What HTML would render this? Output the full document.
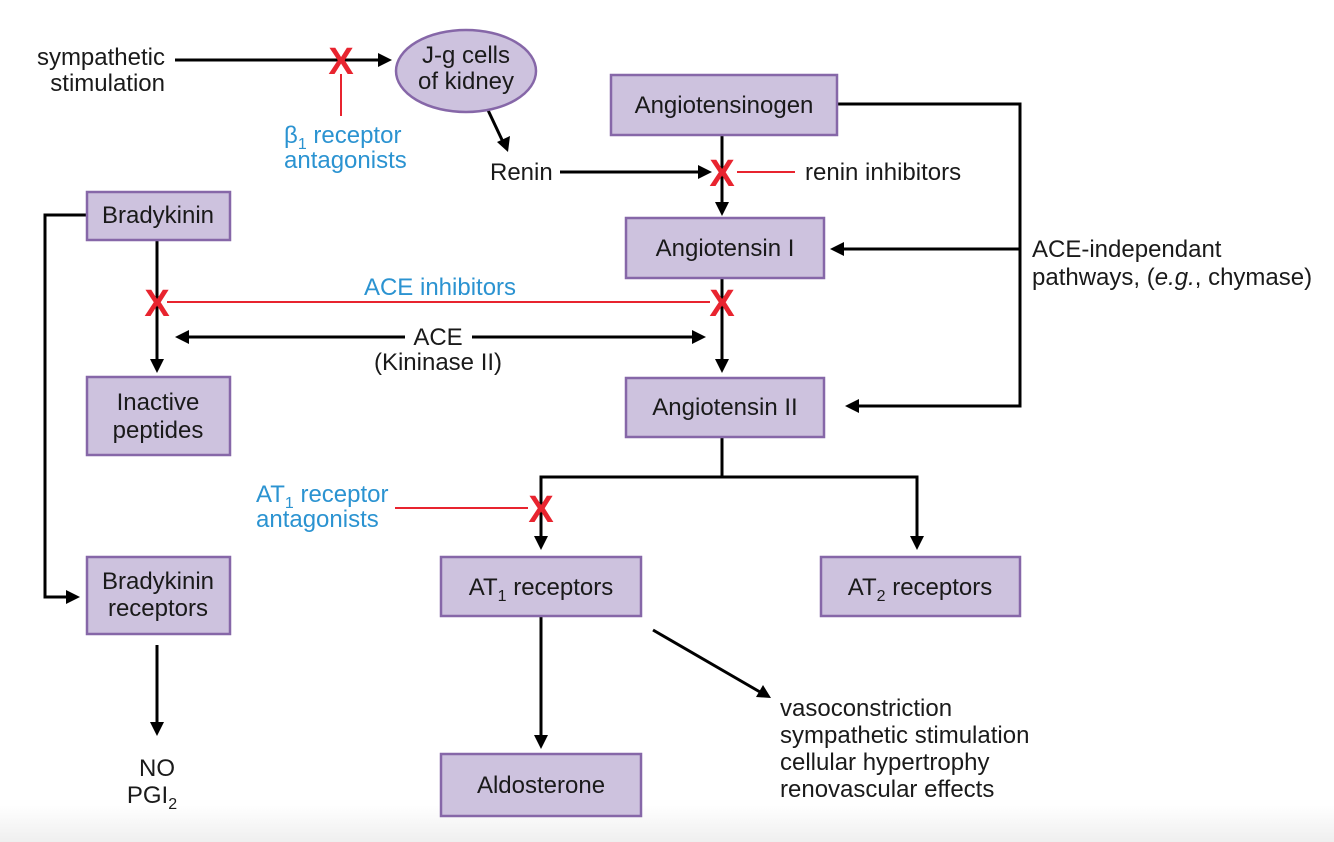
<!DOCTYPE html>
<html><head><meta charset="utf-8"><style>
html,body{margin:0;padding:0;background:#fff;}
svg{display:block;}
text{font-family:"Liberation Sans",Arial,sans-serif;font-size:24px;fill:#1a1a1a;}
.b{fill:#2b93d1;}
.x{fill:#e8242f;font-weight:bold;font-size:38px;}
.box{fill:#cdc2de;stroke:#8667a8;stroke-width:2.5;}
.l{stroke:#000;stroke-width:3;fill:none;}
.r{stroke:#e8242f;stroke-width:2;fill:none;}
</style></head><body>
<svg width="1334" height="842" viewBox="0 0 1334 842" xmlns="http://www.w3.org/2000/svg">
<defs>
<linearGradient id="bg" x1="0" y1="0" x2="0" y2="1"><stop offset="0" stop-color="#fff"/><stop offset="1" stop-color="#efefef"/></linearGradient>
</defs>
<rect x="0" y="805" width="1334" height="37" fill="url(#bg)"/>

<g fill="#000">
<line class="l" x1="175" y1="60" x2="380" y2="60"/>
<polygon points="392,60 378,53 378,67"/>
<line class="l" x1="487" y1="108" x2="503" y2="142"/>
<polygon points="508,152 497,142 510,136"/>
<line class="l" x1="560" y1="172" x2="700" y2="172"/>
<polygon points="712,172 698,165 698,179"/>
<line class="l" x1="722" y1="135" x2="722" y2="205"/>
<polygon points="722,216 715,202 729,202"/>
<polyline class="l" points="837,104 1020,104 1020,406 858,406"/>
<polygon points="845,406 859,399 859,413"/>
<line class="l" x1="1020" y1="249" x2="843" y2="249"/>
<polygon points="830,249 844,242 844,256"/>
<line class="l" x1="722" y1="278" x2="722" y2="362"/>
<polygon points="722,373 715,359 729,359"/>
<polyline class="l" points="87,215 45,215 45,597 68,597"/>
<polygon points="80,597 66,590 66,604"/>
<line class="l" x1="157" y1="240" x2="157" y2="362"/>
<polygon points="157,373 150,359 164,359"/>
<line class="l" x1="185" y1="337" x2="405" y2="337"/>
<line class="l" x1="472" y1="337" x2="695" y2="337"/>
<polygon points="175,337 189,330 189,344"/>
<polygon points="706,337 692,330 692,344"/>
<polyline class="l" points="722,437 722,477 541,477 541,538"/>
<polygon points="541,550 534,536 548,536"/>
<polyline class="l" points="722,477 917,477 917,538"/>
<polygon points="917,550 910,536 924,536"/>
<line class="l" x1="157" y1="645" x2="157" y2="725"/>
<polygon points="157,736 150,722 164,722"/>
<line class="l" x1="541" y1="616" x2="541" y2="738"/>
<polygon points="541,749 534,735 548,735"/>
<line class="l" x1="653" y1="630" x2="760" y2="692"/>
<polygon points="771,698 756,697 763,685"/>
</g>

<line class="r" x1="341" y1="74" x2="341" y2="116"/>
<line class="r" x1="737" y1="172" x2="795" y2="172"/>
<line class="r" x1="167" y1="302" x2="710" y2="302"/>
<line class="r" x1="395" y1="508" x2="528" y2="508"/>

<text class="x" x="341" y="74" text-anchor="middle">X</text>
<text class="x" x="722" y="186" text-anchor="middle">X</text>
<text class="x" x="157" y="316" text-anchor="middle">X</text>
<text class="x" x="722" y="316" text-anchor="middle">X</text>
<text class="x" x="541" y="522" text-anchor="middle">X</text>

<ellipse cx="466" cy="71" rx="70" ry="41" class="box"/>
<text x="466" y="63" text-anchor="middle" font-size="22">J-g cells</text>
<text x="466" y="89" text-anchor="middle" font-size="22">of kidney</text>

<rect class="box" x="611" y="75" width="226" height="60"/>
<text x="724" y="113" text-anchor="middle">Angiotensinogen</text>
<rect class="box" x="626" y="218" width="198" height="60"/>
<text x="725" y="256" text-anchor="middle">Angiotensin I</text>
<rect class="box" x="626" y="378" width="198" height="59"/>
<text x="725" y="415" text-anchor="middle">Angiotensin II</text>
<rect class="box" x="87" y="192" width="143" height="48"/>
<text x="158" y="223" text-anchor="middle">Bradykinin</text>
<rect class="box" x="87" y="377" width="143" height="78"/>
<text x="158" y="410" text-anchor="middle">Inactive</text>
<text x="158" y="438" text-anchor="middle">peptides</text>
<rect class="box" x="87" y="557" width="143" height="77"/>
<text x="158" y="589" text-anchor="middle">Bradykinin</text>
<text x="158" y="616" text-anchor="middle">receptors</text>
<rect class="box" x="441" y="557" width="200" height="59"/>
<text x="541" y="595" text-anchor="middle">AT<tspan font-size="16" dy="6">1</tspan><tspan dy="-6"> receptors</tspan></text>
<rect class="box" x="821" y="557" width="199" height="59"/>
<text x="920" y="595" text-anchor="middle">AT<tspan font-size="16" dy="6">2</tspan><tspan dy="-6"> receptors</tspan></text>
<rect class="box" x="441" y="754" width="200" height="62"/>
<text x="541" y="793" text-anchor="middle">Aldosterone</text>

<text x="165" y="65" text-anchor="end">sympathetic</text>
<text x="165" y="91" text-anchor="end">stimulation</text>
<text class="b" x="284" y="143">β<tspan font-size="16" dy="6">1</tspan><tspan dy="-6"> receptor</tspan></text>
<text class="b" x="284" y="168">antagonists</text>
<text x="490" y="180">Renin</text>
<text x="805" y="180">renin inhibitors</text>
<text x="1032" y="257">ACE-independant</text>
<text x="1032" y="285">pathways, (<tspan font-style="italic">e.g.</tspan>, chymase)</text>
<text class="b" x="440" y="295" text-anchor="middle">ACE inhibitors</text>
<text x="438" y="345" text-anchor="middle">ACE</text>
<text x="438" y="370" text-anchor="middle">(Kininase II)</text>
<text class="b" x="256" y="502">AT<tspan font-size="16" dy="6">1</tspan><tspan dy="-6"> receptor</tspan></text>
<text class="b" x="256" y="527">antagonists</text>
<text x="157" y="776" text-anchor="middle">NO</text>
<text x="152" y="803" text-anchor="middle">PGI<tspan font-size="16" dy="6">2</tspan></text>
<text x="780" y="716">vasoconstriction</text>
<text x="780" y="743">sympathetic stimulation</text>
<text x="780" y="770">cellular hypertrophy</text>
<text x="780" y="797">renovascular effects</text>
</svg>
</body></html>
